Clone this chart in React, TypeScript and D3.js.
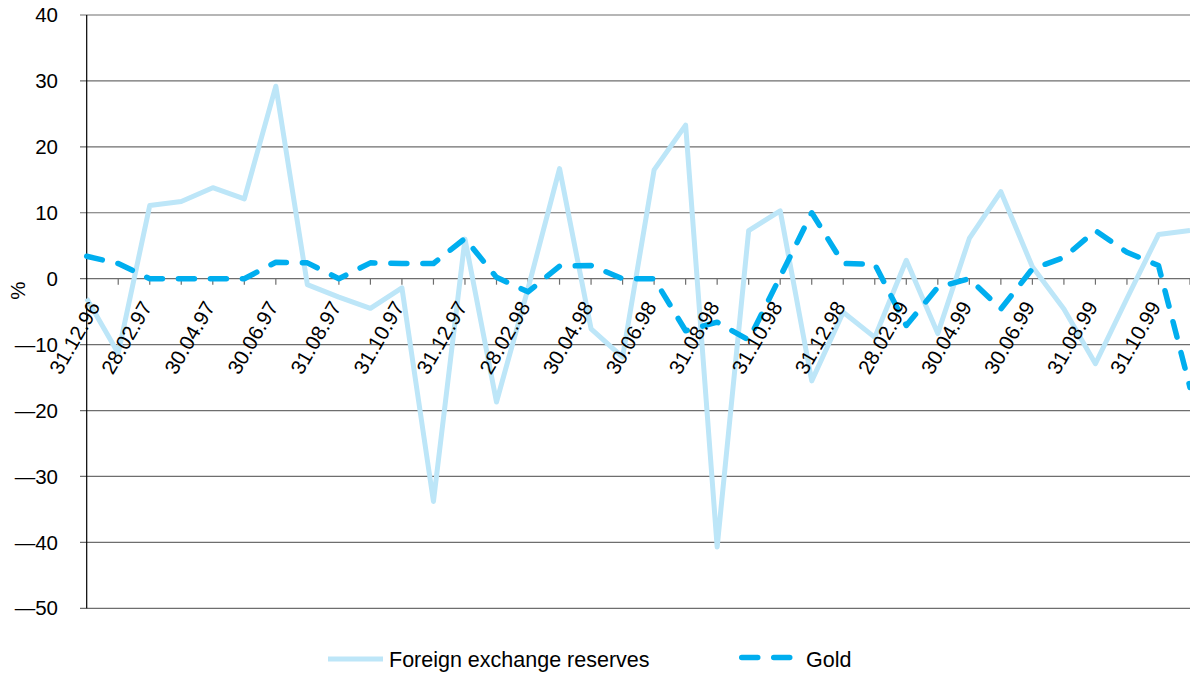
import React from "react";
import * as d3 from "d3";

const dates = [
  "31.12.96", "31.01.97", "28.02.97", "31.03.97", "30.04.97", "31.05.97",
  "30.06.97", "31.07.97", "31.08.97", "30.09.97", "31.10.97", "30.11.97",
  "31.12.97", "31.01.98", "28.02.98", "31.03.98", "30.04.98", "31.05.98",
  "30.06.98", "31.07.98", "31.08.98", "30.09.98", "31.10.98", "30.11.98",
  "31.12.98", "31.01.99", "28.02.99", "31.03.99", "30.04.99", "31.05.99",
  "30.06.99", "31.07.99", "31.08.99", "30.09.99", "31.10.99", "30.11.99",
];

const fxReserves = [
  -3.0, -11.3, 11.1, 11.7, 13.8, 12.1, 29.2, -0.9, -2.8, -4.5, -1.4, -33.8,
  6.0, -18.7, -1.5, 16.7, -7.6, -11.9, 16.5, 23.3, -40.7, 7.3, 10.3, -15.5,
  -5.1, -8.9, 2.8, -8.3, 6.1, 13.2, 1.8, -4.6, -12.9, -3.0, 6.7, 7.3,
];

const gold = [
  3.4, 2.3, 0, 0, 0, 0, 2.5, 2.4, 0, 2.4, 2.3, 2.3,
  6.1, 0.2, -2.0, 1.9, 2.0, 0, 0, -7.9, -6.6, -9.3, 0.3, 10.0,
  2.3, 2.2, -7.1, -1.3, 0, -4.6, 1.5, 3.2, 7.3, 4.0, 2.0, -16.5,
];

const yTicks = [40, 30, 20, 10, 0, -10, -20, -30, -40, -50];

const seriesNames = ["Foreign exchange reserves", "Gold"];

const W = 1190;
const H = 675;
const FONT = "'Liberation Sans', Arial, Helvetica, sans-serif";
const FX_COLOR = "#bde6f8";
const GOLD_COLOR = "#00aeef";
const GRID = "#6e6e6e";
const AXIS_FS = 20.5;
const LEGEND_FS = 21.5;

export default function App() {
  const left = 86.7;
  const right = 1190;
  const top = 15;
  const bottom = 608.3;

  const x = d3.scalePoint<string>().domain(dates).range([left, right]);
  const y = d3.scaleLinear().domain([-50, 40]).range([bottom, top]);

  const line = d3
    .line<number>()
    .x((_, i) => x(dates[i]) as number)
    .y((d) => y(d));

  const fmt = (v: number) => (v < 0 ? "\u2014" + Math.abs(v) : String(v));
  const y0 = y(0);
  const angle = -60;

  return (
    <svg
      width={W}
      height={H}
      style={{ position: "absolute", left: 0, top: 0, background: "#fff" }}
      fontFamily={FONT}
    >
      {yTicks.map((t) => (
        <line
          key={"g" + t}
          x1={left - 6.7}
          x2={right}
          y1={y(t)}
          y2={y(t)}
          stroke={GRID}
          strokeWidth={1.2}
        />
      ))}
      <line x1={left} x2={left} y1={top} y2={bottom} stroke="#000" strokeWidth={1.2} />
      {yTicks.map((t) => (
        <text
          key={"t" + t}
          x={58}
          y={y(t)}
          dy="0.35em"
          textAnchor="end"
          fontSize={AXIS_FS}
          fill="#000"
        >
          {fmt(t)}
        </text>
      ))}
      <text
        transform={`translate(25,${y0 + 12}) rotate(-90)`}
        textAnchor="middle"
        fontSize={AXIS_FS}
        fill="#000"
      >
        %
      </text>
      {dates.map((d, i) =>
        i === 0 ? null : (
          <line
            key={"xt" + d}
            x1={x(d)}
            x2={x(d)}
            y1={y0}
            y2={y0 + 6}
            stroke={GRID}
            strokeWidth={1.2}
          />
        )
      )}
      <path
        d={line(fxReserves) || ""}
        fill="none"
        stroke={FX_COLOR}
        strokeWidth={5}
        strokeLinejoin="round"
      />
      <path
        d={line(gold) || ""}
        fill="none"
        stroke={GOLD_COLOR}
        strokeWidth={5.5}
        strokeDasharray="16 16"
        strokeLinecap="round"
        strokeLinejoin="round"
      />
      {dates.map((d, i) =>
        i % 2 === 0 ? (
          <text
            key={"xl" + d}
            transform={`translate(${(x(d) as number) + 3 + (i === 0 ? 11 : 0)},${y0 + 28}) rotate(${angle})`}
            textAnchor="end"
            fontSize={AXIS_FS}
            fill="#000"
          >
            {d}
          </text>
        ) : null
      )}
      <line x1={328} x2={383} y1={659} y2={659} stroke={FX_COLOR} strokeWidth={5} />
      <text x={389} y={666.5} fontSize={LEGEND_FS} fill="#000">
        {seriesNames[0]}
      </text>
      <line
        x1={741.75}
        x2={790}
        y1={657.5}
        y2={657.5}
        stroke={GOLD_COLOR}
        strokeWidth={5.5}
        strokeDasharray="16 16"
        strokeLinecap="round"
      />
      <text x={806} y={666.5} fontSize={LEGEND_FS} fill="#000">
        {seriesNames[1]}
      </text>
    </svg>
  );
}
